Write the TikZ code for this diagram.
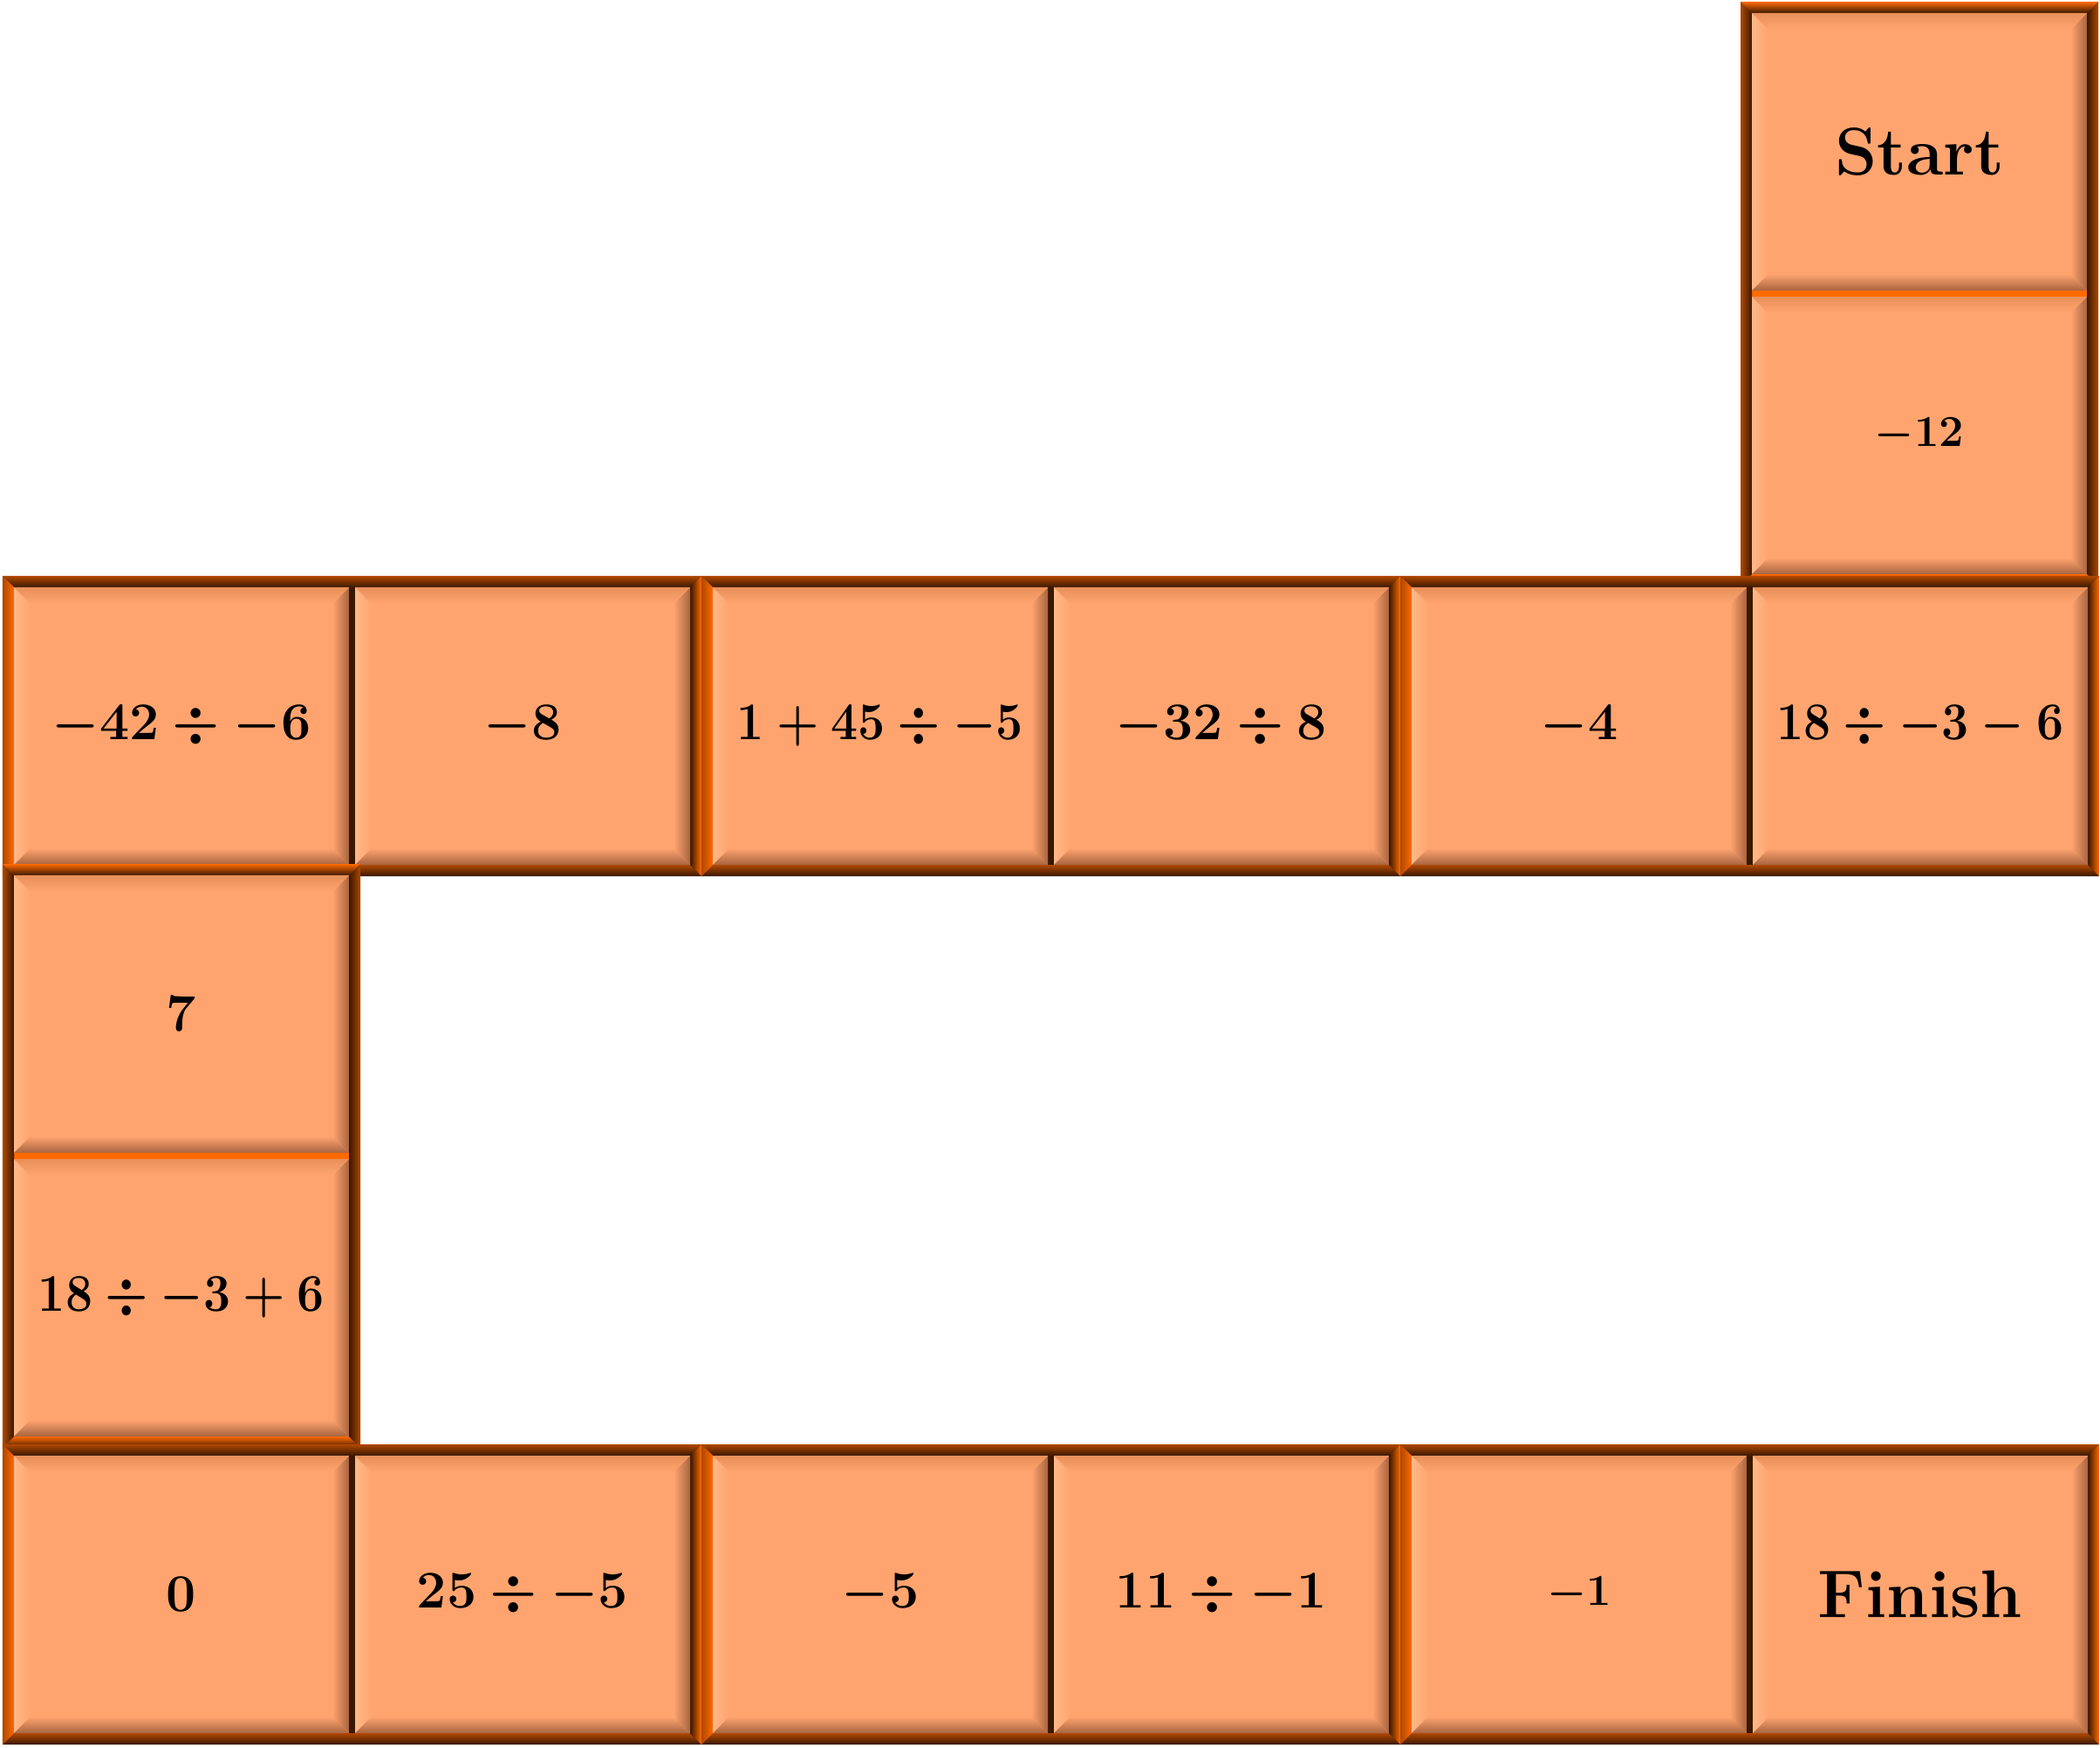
\documentclass[tikz,border=0pt]{standalone}
\usepackage{graphicx}
\usetikzlibrary{positioning}
\definecolor{FrameOrange}{HTML}{FF6A00}
\definecolor{FrameBrown}{HTML}{B04800}
\definecolor{FrameDark}{HTML}{3A1800}
\definecolor{TileFace}{HTML}{FFA46F}
\definecolor{TileHigh}{HTML}{FFE0A8}
\definecolor{TileEdge}{HTML}{E8905A}
\definecolor{TileLight}{HTML}{FFB887}
\definecolor{TileShade}{HTML}{A86440}

\newcommand\framewd{0.13}
\newcommand\bevelwd{0.19}
% one domino frame: x, y, width, height, hframe or vframe
\newcommand\dominoframe[5]{%
  \fill[#5 gap] (#1,#2) rectangle ++(#3,#4);
  \shade[#5 top] (#1,#2+#4) -- ++(#3,0) -- ++(-\framewd,-\framewd) -- (#1+\framewd,#2+#4-\framewd) -- cycle;
  \shade[#5 bottom] (#1,#2) -- ++(#3,0) -- ++(-\framewd,\framewd) -- (#1+\framewd,#2+\framewd) -- cycle;
  \shade[#5 left] (#1,#2) -- ++(0,#4) -- ++(\framewd,-\framewd) -- (#1+\framewd,#2+\framewd) -- cycle;
  \shade[#5 right] (#1+#3,#2) -- ++(0,#4) -- ++(-\framewd,-\framewd) -- (#1+#3-\framewd,#2+\framewd) -- cycle;
}

\tikzset{
  hframe gap/.style={fill=FrameDark},
  hframe top/.style={top color=FrameBrown, bottom color=FrameDark},
  hframe bottom/.style={top color=FrameBrown, bottom color=FrameDark},
  hframe left/.style={left color=FrameBrown, right color=FrameOrange},
  hframe right/.style={left color=FrameDark, right color=FrameOrange},
  vframe gap/.style={fill=FrameOrange},
  vframe top/.style={top color=FrameOrange, bottom color=FrameDark},
  vframe bottom/.style={top color=FrameOrange, bottom color=FrameDark},
  vframe left/.style={left color=FrameBrown, right color=FrameDark},
  vframe right/.style={left color=FrameDark, right color=FrameBrown},
  tile/.style={inner sep=0pt, outer sep=0pt, minimum width=3.84cm, minimum height=3.18cm,
    fill=TileFace, font=\fontsize{18.5}{22}\selectfont\bfseries\boldmath,
    path picture={
      \path (path picture bounding box.north west) coordinate (tl)
            (path picture bounding box.north east) coordinate (tr)
            (path picture bounding box.south west) coordinate (bl)
            (path picture bounding box.south east) coordinate (br);
      \shade[left color=TileLight, right color=TileFace]
        (tl) -- ([shift={(\bevelwd,-\bevelwd)}]tl) -- ([shift={(\bevelwd,\bevelwd)}]bl) -- (bl) -- cycle;
      \shade[left color=TileFace, right color=TileShade]
        (tr) -- ([shift={(-\bevelwd,-\bevelwd)}]tr) -- ([shift={(-\bevelwd,\bevelwd)}]br) -- (br) -- cycle;
      \shade[top color=TileEdge, middle color=TileHigh, bottom color=TileFace]
        (tl) -- (tr) -- ([shift={(-\bevelwd,-\bevelwd)}]tr) -- ([shift={(\bevelwd,-\bevelwd)}]tl) -- cycle;
      \shade[top color=TileFace, bottom color=TileShade]
        (bl) -- (br) -- ([shift={(-\bevelwd,\bevelwd)}]br) -- ([shift={(\bevelwd,\bevelwd)}]bl) -- cycle;
    }},
  bigword/.style={font=\fontsize{22}{26}\selectfont\bfseries},
  smallnum/.style={font=\fontsize{15.5}{18}\selectfont\bfseries\boldmath}
}

\begin{document}
\begin{tikzpicture}
  \useasboundingbox (0,0) rectangle (24.07,20.02);

  % start domino
  \dominoframe{19.95}{13.31}{4.10}{6.69}{vframe}
  \node[tile, bigword, anchor=north west] (start) at (20.08,19.87) {Start};
  \node[tile, smallnum, below=0.07cm of start] (m12) {$-12$};

  % middle row
  \dominoframe{0.03}{9.98}{8.01}{3.44}{hframe}
  \dominoframe{8.04}{9.98}{8.01}{3.44}{hframe}
  \dominoframe{16.05}{9.98}{8.01}{3.44}{hframe}
  \node[tile, anchor=south west] (q42) at (0.16,10.11) {$-42 \div -6$};
  \node[tile, right=0.07cm of q42] (m8) {$-8$};
  \node[tile, anchor=south west] (q45) at (8.17,10.11) {\scalebox{0.91}[1]{$1 + 45 \div -5$}};
  \node[tile, right=0.07cm of q45] (q32) {$-32 \div 8$};
  \node[tile, anchor=south west] (m4) at (16.18,10.11) {$-4$};
  \node[tile, right=0.07cm of m4] (q18a) {\scalebox{0.91}[1]{$18 \div -3 - 6$}};

  % left column
  \dominoframe{0.03}{3.43}{4.10}{6.69}{vframe}
  \node[tile, anchor=north west] (seven) at (0.16,9.99) {$7$};
  \node[tile, below=0.07cm of seven] (q18b) {\scalebox{0.91}[1]{$18 \div -3 + 6$}};

  % bottom row
  \dominoframe{0.03}{0.03}{8.01}{3.44}{hframe}
  \dominoframe{8.04}{0.03}{8.01}{3.44}{hframe}
  \dominoframe{16.05}{0.03}{8.01}{3.44}{hframe}
  \node[tile, anchor=south west] (zero) at (0.16,0.16) {$0$};
  \node[tile, right=0.07cm of zero] (q25) {$25 \div -5$};
  \node[tile, anchor=south west] (m5) at (8.17,0.16) {$-5$};
  \node[tile, right=0.07cm of m5] (q11) {$11 \div -1$};
  \node[tile, smallnum, anchor=south west] (m1) at (16.18,0.16) {$-1$};
  \node[tile, bigword, right=0.07cm of m1] (finish) {Finish};
\end{tikzpicture}
\end{document}
